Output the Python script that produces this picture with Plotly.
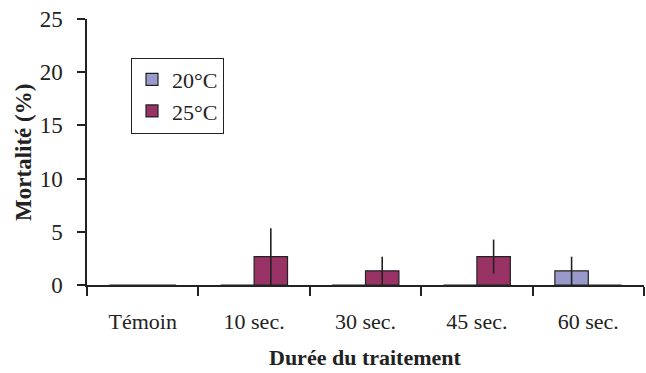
import plotly.graph_objects as go

categories = ["Témoin", "10 sec.", "30 sec.", "45 sec.", "60 sec."]
mort_20 = [0, 0, 0, 0, 1.33]
err_20 = [0, 0, 0, 0, 1.33]
mort_25 = [0, 2.67, 1.33, 2.67, 0]
err_25 = [0, 2.67, 1.33, 1.6, 0]
y_ticks = [0, 5, 10, 15, 20, 25]

FONT = "Liberation Serif"
INK = "#222222"

fig = go.Figure()
fig.add_trace(go.Bar(
    x=categories, y=mort_20, name="20°C",
    marker=dict(color="#9999CC", line=dict(color=INK, width=1.2)),
    error_y=dict(type="data", array=err_20, visible=True, width=0, thickness=1.6, color=INK),
))
fig.add_trace(go.Bar(
    x=categories, y=mort_25, name="25°C",
    marker=dict(color="#993366", line=dict(color=INK, width=1.2)),
    error_y=dict(type="data", array=err_25, visible=True, width=0, thickness=1.6, color=INK),
))

fig.update_layout(
    width=646, height=373,
    margin=dict(l=87, r=2, t=19, b=88),
    barmode="group", bargap=0.4, bargroupgap=0,
    plot_bgcolor="white", paper_bgcolor="white",
    font=dict(family=FONT, size=23, color=INK),
    showlegend=True,
    legend=dict(
        x=0.079, y=0.855, xanchor="left", yanchor="top",
        bordercolor=INK, borderwidth=1, bgcolor="white",
        font=dict(family=FONT, size=22, color=INK),
        tracegroupgap=4, itemwidth=30,
    ),
    xaxis=dict(
        type="category", showline=True, linecolor=INK, linewidth=1.5,
        ticks="outside", tickson="boundaries", ticklen=9, tickcolor=INK, tickwidth=1.5,
        ticklabelstandoff=16, showgrid=False, zeroline=False,
        tickfont=dict(family=FONT, size=22, color=INK),
    ),
    yaxis=dict(
        range=[0, 25], tickvals=y_ticks, showline=True, linecolor=INK, linewidth=1.5,
        ticks="outside", ticklen=8, tickcolor=INK, tickwidth=1.5,
        ticklabelstandoff=10, showgrid=False, zeroline=False,
        tickfont=dict(family=FONT, size=23, color=INK),
    ),
    annotations=[
        dict(text="<b>Durée du traitement</b>", xref="paper", yref="paper",
             x=0.5, y=-0.272, xanchor="center", yanchor="middle", showarrow=False,
             font=dict(family=FONT, size=22, color=INK)),
        dict(text="<b>Mortalité (%)</b>", xref="paper", yref="paper",
             x=-0.115, y=0.5, xanchor="center", yanchor="middle", showarrow=False,
             textangle=-90, font=dict(family=FONT, size=23, color=INK)),
    ],
)

fig.write_html("out.html")
